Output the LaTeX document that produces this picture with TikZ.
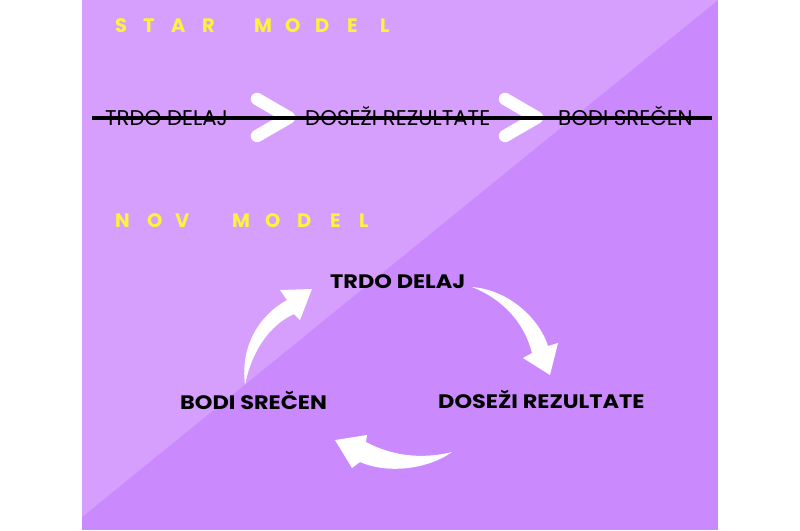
\documentclass[tikz,border=0pt]{standalone}
\usepackage{fontspec}
\setmainfont{Poppins}
\newfontfamily\widefont[FakeStretch=1.15]{Poppins}
\definecolor{lightp}{HTML}{D69EFD}
\definecolor{darkp}{HTML}{CB89FE}
\definecolor{yel}{HTML}{FFF23C}
\tikzset{
  heading/.style={text=yel, inner sep=0pt, anchor=base west, font=\bfseries\fontsize{19.5}{20}\selectfont},
  thintext/.style={text=black, inner sep=0pt, anchor=base west, font=\fontsize{21.3}{22}\selectfont},
  boldtext/.style={text=black, inner sep=0pt, anchor=base west, font=\widefont\bfseries\fontsize{19.5}{20}\selectfont},
  chevron/.style={draw=white, line width=12.5pt, line cap=round, line join=round},
  strike/.style={draw=black, line width=3.5pt},
  bigarrow/.style={fill=white, draw=none}
}
\begin{document}
\begin{tikzpicture}[x=1pt,y=-1pt]
\useasboundingbox (0,0) rectangle (800,530);
\fill[white] (0,0) rectangle (800,530);
\fill[darkp] (82,0) rectangle (718,530);
\fill[lightp] (82,0) -- (718,0) -- (82,517) -- cycle;

% headings (letter-spaced)
\foreach \l/\x [count=\i] in {S/115,T/143,A/171,R/202,M/254,O/285,D/315,E/347,L/380}
  \node[heading] (star\i) at (\x,32) {\l};
\foreach \l/\x [count=\i] in {N/115,O/147,V/175,M/232,O/265,D/297,E/330,L/359}
  \node[heading] (nov\i) at (\x,227) {\l};

% old model
\draw[chevron] (257,99) -- (289,117.5) -- (257,136);
\draw[chevron] (505,99) -- (537,117.5) -- (505,136);
\node[thintext] (t1) at (105,125) {TRDO DELAJ};
\node[thintext] (t2) at (305,125) {DOSEŽI REZULTATE};
\node[thintext] (t3) at (558,125) {BODI SREČEN};
\coordinate (sl) at (92,118);
\coordinate (sr) at (712,118);
\draw[strike] (sl) -- (sr);

% new model
\node[boldtext] (n1) at (330,288) {TRDO DELAJ};
\node[boldtext] (n2) at (438,408) {DOSEŽI REZULTATE};
\node[boldtext] (n3) at (180,409) {BODI SREČEN};

% curved arrows
\fill[bigarrow] (472,287) .. controls (510,290) and (540,320) .. (548,346)
  -- (558,343) -- (550,375) -- (523,358) -- (532,353)
  .. controls (525,325) and (505,300) .. cycle;
\fill[bigarrow] (452,452) .. controls (420,460) and (390,455) .. (366,442)
  -- (367,435) -- (335,440) -- (352,468) -- (360,462)
  .. controls (390,475) and (430,468) .. cycle;
\fill[bigarrow] (245,385) .. controls (240,345) and (260,315) .. (287,300)
  -- (280,290) -- (312,289) -- (300,320) -- (294,314)
  .. controls (270,325) and (252,350) .. cycle;
\end{tikzpicture}
\end{document}
